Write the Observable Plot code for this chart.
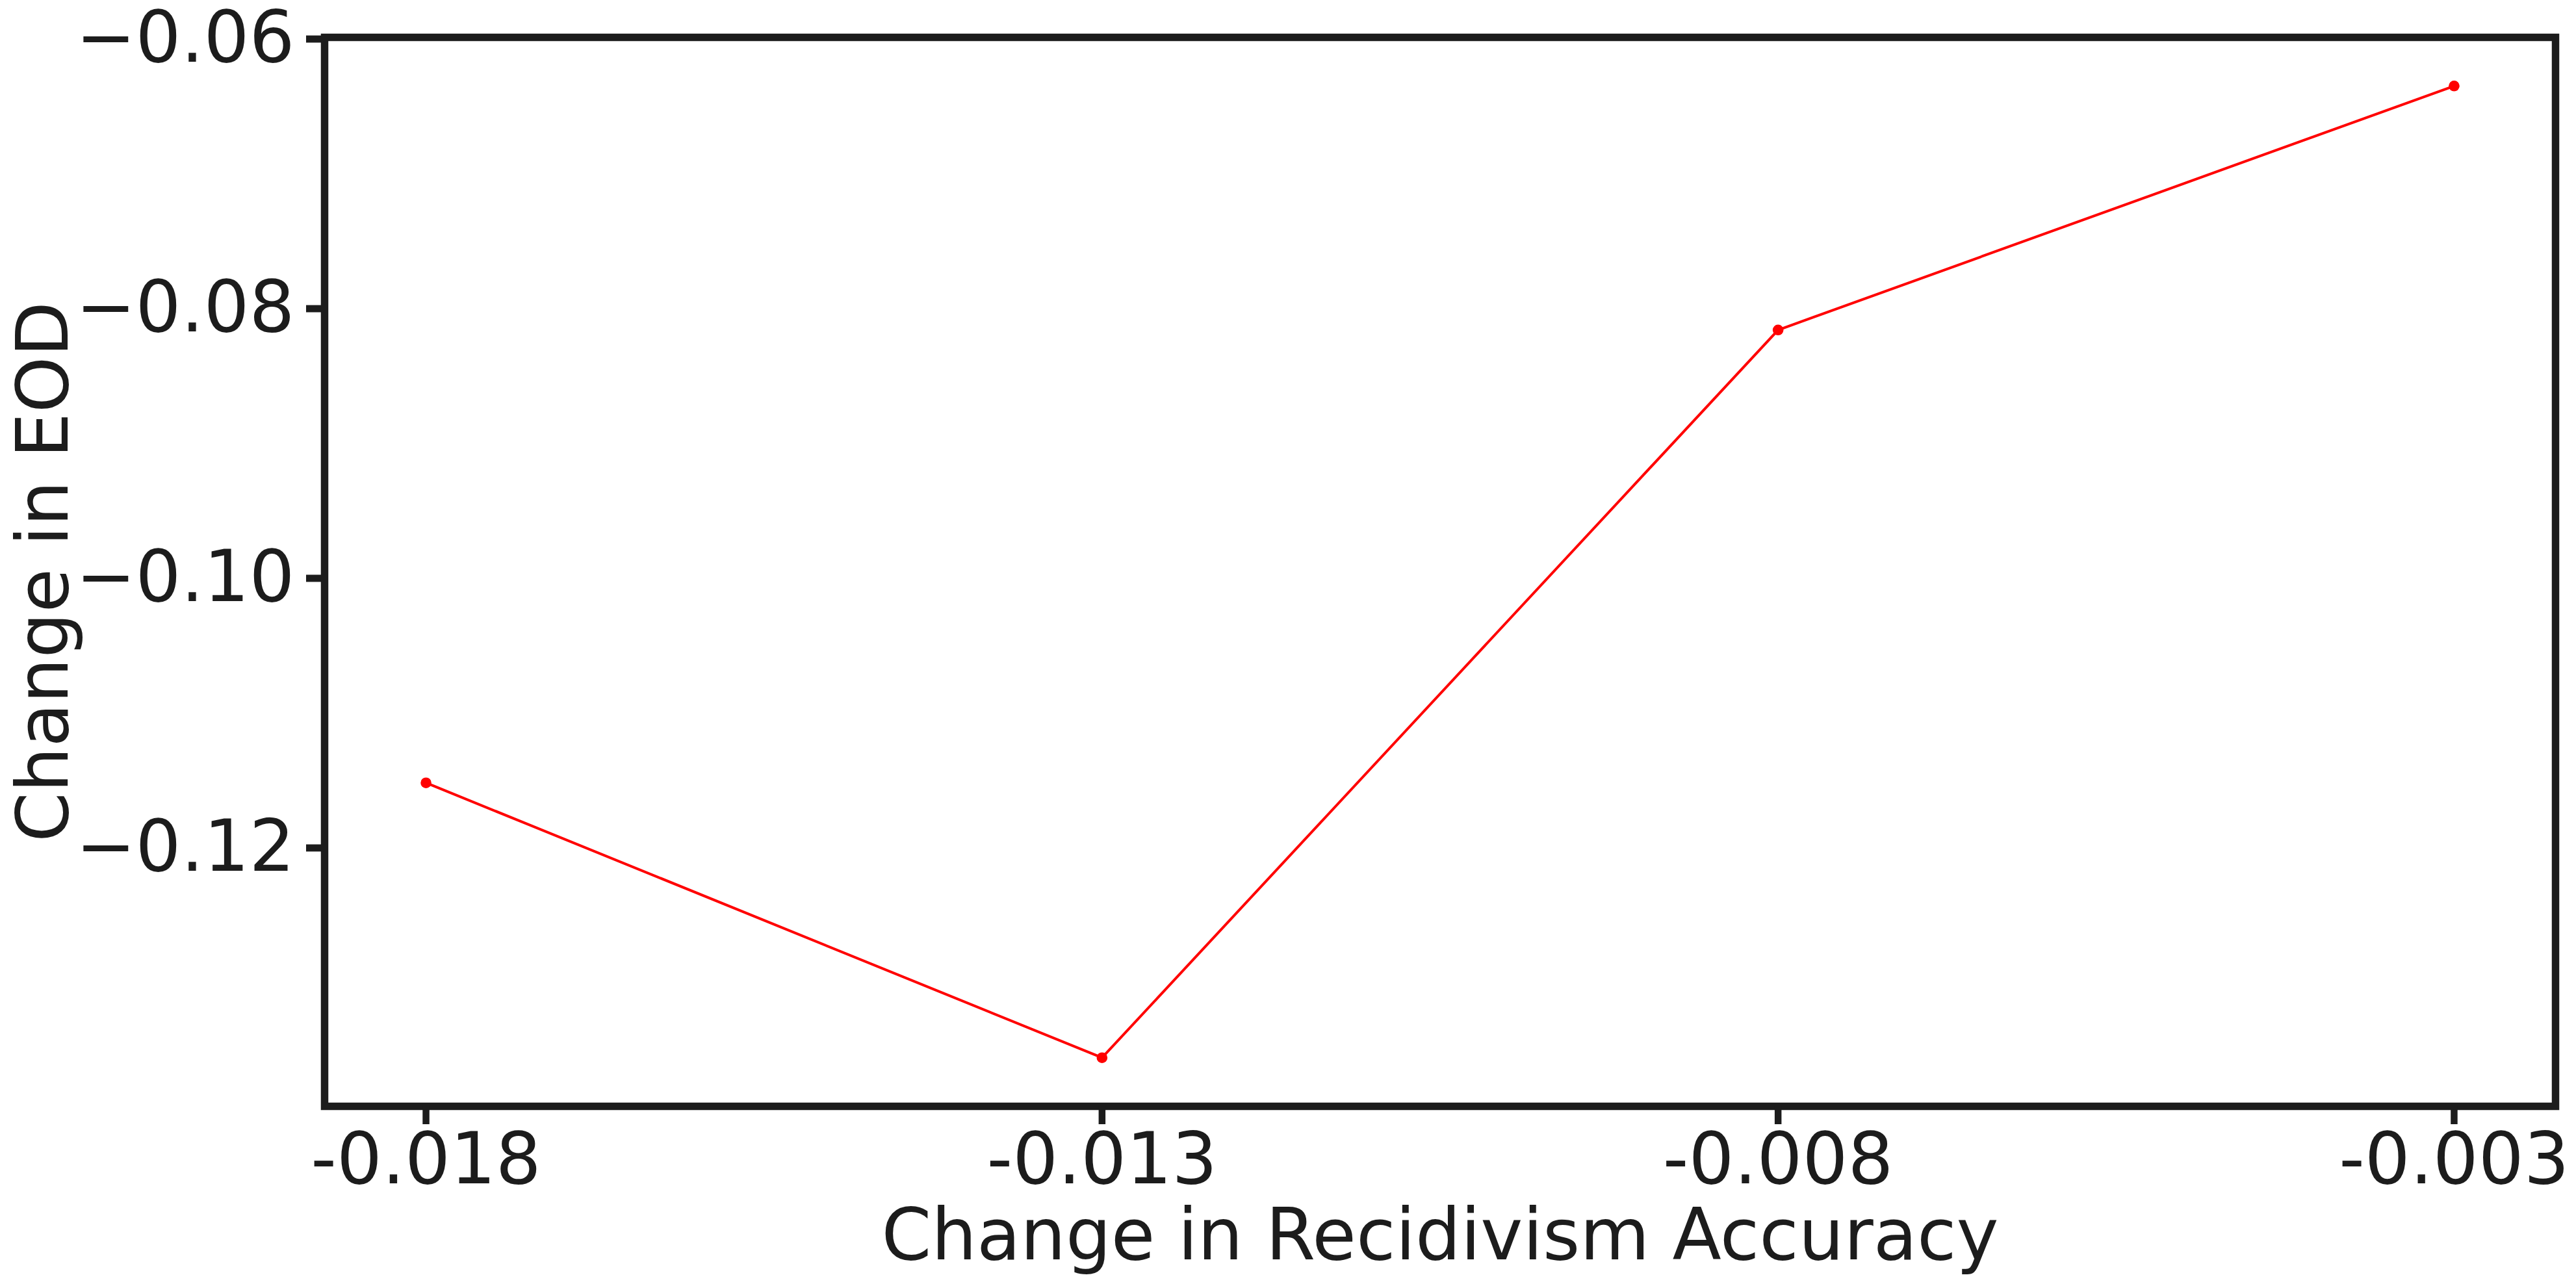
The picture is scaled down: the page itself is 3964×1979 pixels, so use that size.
<!DOCTYPE html>
<html>
<head>
<meta charset="utf-8">
<script src="https://cdn.jsdelivr.net/npm/d3@7"></script>
<script src="https://cdn.jsdelivr.net/npm/@observablehq/plot@0.6"></script>
<style>
  html, body { margin: 0; padding: 0; background: #ffffff; }
  #chart { width: 3964px; height: 1979px; }
</style>
</head>
<body>
<div id="chart"></div>
<script>
// ---- data ----
const accuracyChange = [-0.018, -0.013, -0.008, -0.003];
const eodChange = [-0.11517, -0.13556, -0.08158, -0.06348];
const xTicks = [-0.018, -0.013, -0.008, -0.003];
const xTickLabels = ["-0.018", "-0.013", "-0.008", "-0.003"];
const yTicks = [-0.06, -0.08, -0.10, -0.12];
const yTickLabels = ["\u22120.06", "\u22120.08", "\u22120.10", "\u22120.12"];
const xTitle = "Change in Recidivism Accuracy";
const yTitle = "Change in EOD";

const rows = accuracyChange.map((x, i) => ({x, y: eodChange[i]}));

// matplotlib-like 5% margins around the data
function padded(vals) {
  const lo = d3.min(vals), hi = d3.max(vals), r = hi - lo;
  return [lo - 0.05 * r, hi + 0.05 * r];
}

const ink = "#1c1c1c";
const W = 3964, H = 1979;

const chart = Plot.plot({
  width: W,
  height: H,
  marginLeft: 499,
  marginRight: 32,
  marginTop: 57,
  marginBottom: 277,
  style: {
    fontFamily: "'DejaVu Sans', sans-serif",
    fontSize: "110px",
    color: ink,
    background: "#ffffff"
  },
  x: {domain: padded(accuracyChange), axis: null},
  y: {domain: padded(eodChange), axis: null},
  marks: [
    Plot.line(rows, {x: "x", y: "y", stroke: "#ff0000", strokeWidth: 4}),
    Plot.dot(rows, {x: "x", y: "y", r: 8.3, fill: "#ff0000", stroke: null}),
    Plot.frame({stroke: ink, strokeWidth: 11.5}),
    Plot.axisX({
      ticks: xTicks,
      tickFormat: (d) => xTickLabels[xTicks.indexOf(d)],
      tickSize: 28,
      tickPadding: 12,
      strokeWidth: 10.5,
      stroke: ink,
      fill: ink,
      fontSize: 110,
      label: null
    }),
    Plot.axisY({
      ticks: yTicks,
      tickFormat: (d) => yTickLabels[yTicks.indexOf(d)],
      tickSize: 28,
      tickPadding: 18,
      strokeWidth: 11,
      stroke: ink,
      fill: ink,
      fontSize: 110,
      label: null
    }),
    Plot.text([xTitle], {
      frameAnchor: "bottom",
      lineAnchor: "bottom",
      textAnchor: "middle",
      dy: 235,
      text: (d) => d,
      fontSize: 110,
      fill: ink
    }),
    Plot.text([yTitle], {
      frameAnchor: "left",
      lineAnchor: "bottom",
      textAnchor: "middle",
      rotate: -90,
      dx: -396,
      text: (d) => d,
      fontSize: 110,
      fill: ink
    })
  ]
});

document.getElementById("chart").appendChild(chart);
</script>
</body>
</html>
